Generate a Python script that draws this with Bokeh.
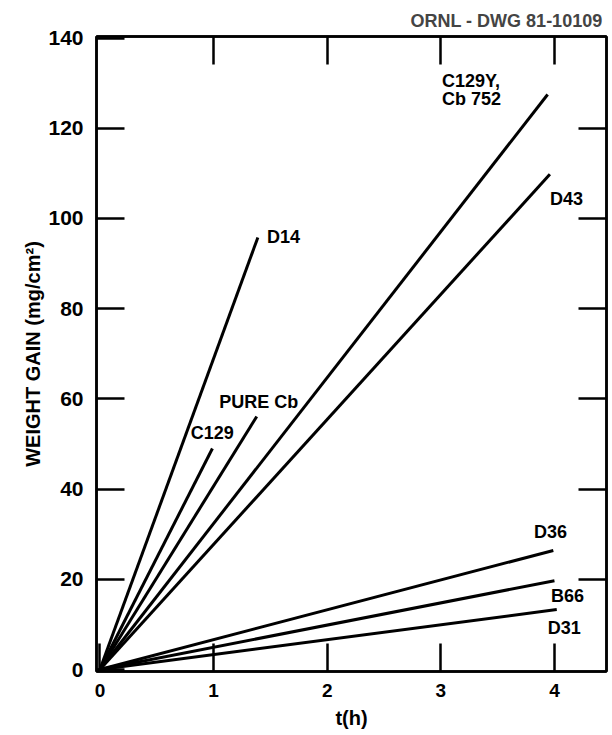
from bokeh.plotting import figure
from bokeh.models import LinearAxis, Range1d, FixedTicker, Label
from bokeh.embed import file_html
from bokeh.resources import INLINE

# ---- data ----
alloys = ["D14", "C129", "PURE Cb", "C129Y, Cb752", "D43", "D36", "B66", "D31"]
end_t = [1.39, 0.99, 1.38, 3.94, 3.96, 3.99, 4.00, 4.02]
end_gain = [95.8, 49.0, 56.1, 127.5, 109.8, 26.4, 19.7, 13.3]

label_texts = ["D14", "C129", "PURE Cb", "C129Y,", "Cb 752", "D43", "D36", "B66", "D31"]
label_x = [1.47, 0.80, 1.05, 3.01, 3.01, 3.96, 3.82, 3.97, 3.94]
label_y = [96.0, 52.5, 59.4, 130.4, 126.4, 104.4, 30.4, 16.2, 9.3]

x_ticks = [0, 1, 2, 3, 4]
y_ticks = [0, 20, 40, 60, 80, 100, 120, 140]

FONT = "Liberation Sans"

p = figure(width=611, height=733, output_backend="svg", toolbar_location=None,
           x_range=Range1d(-0.03, 4.458), y_range=Range1d(-0.44, 140.35),
           min_border_left=96, min_border_right=5, min_border_top=36, min_border_bottom=62,
           x_axis_label="t(h)", y_axis_label="WEIGHT GAIN (mg/cm\u00b2)")

p.title.text = "ORNL - DWG 81-10109"
p.title.align = "right"
p.title.text_font = FONT
p.title.text_font_size = "18px"
p.title.text_font_style = "bold"
p.title.offset = 4
p.title.standoff = 12

p.xgrid.visible = False
p.ygrid.visible = False
p.outline_line_color = "black"
p.outline_line_width = 2.5
p.background_fill_color = "white"
p.border_fill_color = "white"

for ax, ticks in ((p.xaxis[0], x_ticks), (p.yaxis[0], y_ticks)):
    ax.ticker = FixedTicker(ticks=ticks)
    ax.major_tick_in = 28
    ax.major_tick_out = 0
    ax.minor_tick_line_color = None
    ax.major_tick_line_width = 2.5
    ax.axis_line_width = 2.5
    ax.major_label_text_font = FONT
    ax.major_label_text_font_style = "bold"
    ax.major_label_text_color = "black"
    ax.axis_label_text_font = FONT
    ax.axis_label_text_font_style = "bold"
    ax.axis_label_text_color = "black"

p.yaxis[0].major_label_text_font_size = "21px"
p.xaxis[0].major_label_text_font_size = "19px"
p.yaxis[0].major_label_standoff = 13
p.xaxis[0].major_label_standoff = 12
p.yaxis[0].axis_label_text_font_size = "20px"
p.xaxis[0].axis_label_text_font_size = "20px"
p.yaxis[0].axis_label_standoff = 1
p.xaxis[0].axis_label_standoff = 7

# top and right axes with inward ticks, labels not drawn
for loc, ticks in (("above", x_ticks[1:]), ("right", y_ticks[1:-1])):
    ax = LinearAxis(ticker=FixedTicker(ticks=ticks))
    ax.major_tick_in = 28
    ax.major_tick_out = 0
    ax.minor_tick_line_color = None
    ax.major_tick_line_width = 2.5
    ax.axis_line_width = 2.5
    ax.major_label_text_font_size = "1px"
    ax.major_label_text_color = None
    ax.major_label_standoff = 0
    p.add_layout(ax, loc)

# lines from origin
for t, g in zip(end_t, end_gain):
    p.line([0, t], [0, g], line_color="black", line_width=3)

for txt, x, y in zip(label_texts, label_x, label_y):
    p.add_layout(Label(x=x, y=y, text=txt, text_font=FONT, text_font_style="bold",
                       text_font_size="18px", text_align="left", text_baseline="middle",
                       text_color="black"))

open("out.html", "w").write(file_html(p, INLINE))
